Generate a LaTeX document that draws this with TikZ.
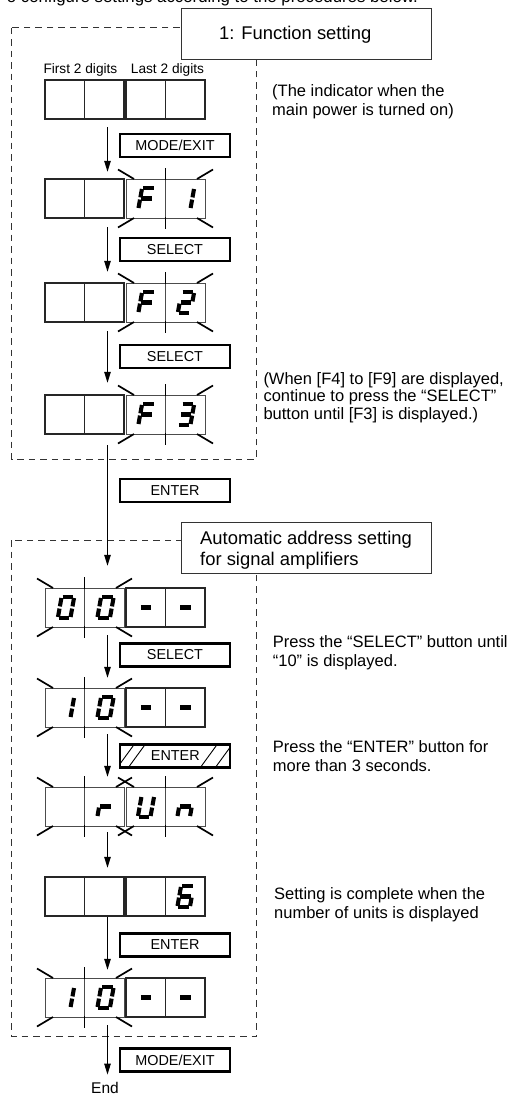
\documentclass[tikz,border=0pt]{standalone}
\usepackage{fontspec}
\setmainfont{Liberation Sans}
\usetikzlibrary{arrows.meta,calc}

\tikzset{
  solidframe/.style={draw=black!85, line width=1.2pt},
  flashframe/.style={draw=black!70, line width=0.8pt},
  flashmark/.style={draw=black, line width=1.7pt},
  seg/.style={draw=black, line width=4.1pt, line cap=butt},
  btn/.style={draw=black, line width=2.2pt, fill=white, minimum width=110pt, minimum height=23pt, inner sep=0pt, font=\fontsize{14.4}{16}\selectfont},
  ttlbox/.style={draw=black!80, line width=1pt, fill=white, inner sep=0pt},
  dashbox/.style={draw=black!80, line width=1pt, dash pattern=on 6.5pt off 5pt},
  arr/.style={draw=black, line width=1pt, -{Triangle[length=11pt,width=6.5pt]}},
  side/.style={anchor=base west, inner sep=0pt, font=\fontsize{16.5}{19}\selectfont},
  ttltext/.style={anchor=base west, inner sep=0pt, font=\fontsize{18.4}{22}\selectfont},
  dispbox/.style={draw=none, minimum width=160pt, minimum height=39pt, inner sep=0pt},
  hatch/.style={draw=black, line width=0.9pt},
}

\def\segW{6.3}
\def\segH{10.6}
\def\segG{1.1}
\def\segparse#1#2#3#4#5#6#7\relax{%
  \ifnum#1=1 \draw[seg] (-\segW+\segG,-\segH) -- (\segW-\segG,-\segH);\fi
  \ifnum#2=1 \draw[seg] (\segW,-\segH+\segG) -- (\segW,-\segG);\fi
  \ifnum#3=1 \draw[seg] (\segW,\segG) -- (\segW,\segH-\segG);\fi
  \ifnum#4=1 \draw[seg] (-\segW+\segG,\segH) -- (\segW-\segG,\segH);\fi
  \ifnum#5=1 \draw[seg] (-\segW,\segG) -- (-\segW,\segH-\segG);\fi
  \ifnum#6=1 \draw[seg] (-\segW,-\segH+\segG) -- (-\segW,-\segG);\fi
  \ifnum#7=1 \draw[seg] (-\segW+\segG,0) -- (\segW-\segG,0);\fi}
\newcommand\sevseg[3]{\begin{scope}[shift={(#1,#2)},xslant=0.18]\segparse#3\relax\end{scope}}

\newcommand\dispgrp[4]{%
  \ifnum#3=1
    \draw[flashframe] (#1,#2) rectangle (#4,#2+39);
    \draw[flashframe] ({(#1+#4)/2},#2) -- ({(#1+#4)/2},#2+39);
    \draw[flashmark] (#1-8,#2-9.5) -- (#1+8,#2);
    \draw[flashmark] (#4+8,#2-9.5) -- (#4-8,#2);
    \draw[flashmark] (#1-8,#2+48.5) -- (#1+8,#2+39);
    \draw[flashmark] (#4+8,#2+48.5) -- (#4-8,#2+39);
    \draw[flashmark] ({(#1+#4)/2},#2-11) -- ({(#1+#4)/2},#2+1);
    \draw[flashmark] ({(#1+#4)/2},#2+38) -- ({(#1+#4)/2},#2+50);
  \else
    \draw[solidframe] (#1,#2) rectangle (#4,#2+39);
    \draw[solidframe] ({(#1+#4)/2},#2) -- ({(#1+#4)/2},#2+39);
  \fi}
\newcommand\dispunit[4]{%
  \node[dispbox] (#1) at (125,#2+19.5) {};
  \dispgrp{45}{#2}{#3}{124}%
  \dispgrp{126}{#2}{#4}{205}}

\begin{document}
\begin{tikzpicture}[x=1pt,y=-1pt]
\useasboundingbox (0,0) rectangle (522,1097);
\fill[white] (0,0) rectangle (522,1097);
\coordinate (ax) at (107.5,0);

\node[anchor=base east, inner sep=0pt, font=\fontsize{16.8}{19}\selectfont] (toptext) at (418,2.5) {o configure settings according to the procedures below.};

% ---------------- section 1
\draw[dashbox] (11.7,27.7) rectangle (256.7,459);
\node[ttlbox, minimum width=249.3pt, minimum height=51pt] (ttl1) at (306.35,33.8) {};
\node[ttltext] (ttl1txt) at (219,40) {1: Function setting};

\node[anchor=base west, inner sep=0pt, font=\fontsize{13.7}{16}\selectfont] (lblfirst) at (43.3,74) {First 2 digits};
\node[anchor=base west, inner sep=0pt, font=\fontsize{13.7}{16}\selectfont] (lbllast) at (130.7,74) {Last 2 digits};

\dispunit{d1}{80}{0}{0}
\dispunit{d2}{179}{0}{1}
\dispunit{d3}{283}{0}{1}
\dispunit{d4}{395}{0}{1}
\sevseg{146.5}{198.5}{1000111}
\sevseg{186}{198.5}{0110000}
\sevseg{146.5}{302.5}{1000111}
\sevseg{186}{302.5}{1101101}
\sevseg{146.5}{414.5}{1000111}
\sevseg{186}{414.5}{1111001}

\node[side] (s1a) at (272,96.7) {(The indicator when the};
\node[side] (s1b) at (272,116) {main power is turned on)};
\node[side] (s2a) at (263.3,384) {(When [F4] to [F9] are displayed,};
\node[side] (s2b) at (263.3,401.5) {continue to press the “SELECT”};
\node[side] (s2c) at (263.3,419) {button until [F3] is displayed.)};

\node[btn] (b1) at (175,145.5) {MODE/EXIT};
\node[btn] (b2) at (175,249.5) {SELECT};
\node[btn] (b3) at (175,356.5) {SELECT};
\node[btn] (b4) at (175,490.5) {ENTER};

% ---------------- section 2
\draw[dashbox] (11.7,540) rectangle (256.7,1036);
\node[ttlbox, minimum width=249.3pt, minimum height=51pt] (ttl2) at (306.35,547.5) {};
\node[ttltext] (ttl2a) at (200,544) {Automatic address setting};
\node[ttltext] (ttl2b) at (200,565) {for signal amplifiers};

\dispunit{d5}{588}{1}{0}
\dispunit{d6}{688}{1}{0}
\dispunit{d7}{787}{1}{1}
\dispunit{d8}{877}{0}{0}
\dispunit{d9}{978}{1}{0}
% 00--
\sevseg{66}{607.5}{1111110}
\sevseg{105.5}{607.5}{1111110}
\sevseg{146}{607.5}{0000001}
\sevseg{185.5}{607.5}{0000001}
% 10--
\sevseg{66}{707.5}{0110000}
\sevseg{105.5}{707.5}{1111110}
\sevseg{146}{707.5}{0000001}
\sevseg{185.5}{707.5}{0000001}
% rUn
\sevseg{105.5}{806.5}{0000101}
\sevseg{146}{806.5}{0111110}
\sevseg{185.5}{806.5}{0010101}
% 6
\sevseg{185.5}{896.5}{1011111}
% 10--
\sevseg{66}{997.5}{0110000}
\sevseg{105.5}{997.5}{1111110}
\sevseg{146}{997.5}{0000001}
\sevseg{185.5}{997.5}{0000001}

\node[side] (s3a) at (272.7,647) {Press the “SELECT” button until};
\node[side] (s3b) at (272.7,666) {“10” is displayed.};
\node[side] (s4a) at (272.7,752) {Press the “ENTER” button for};
\node[side] (s4b) at (272.7,771) {more than 3 seconds.};
\node[side] (s5a) at (274,899) {Setting is complete when the};
\node[side] (s5b) at (274,918) {number of units is displayed};

\node[btn] (b5) at (175,655) {SELECT};
\node[btn] (b6) at (175.3,756) {ENTER};
\begin{scope}
\clip ($(b6.south west)+(1.1,-1.1)$) rectangle ($(b6.north east)+(-1.1,1.1)$);
\draw[hatch] (117,768) -- (134.5,744);
\draw[hatch] (128,768) -- (145.5,744);
\draw[hatch] (200,768) -- (217.5,744);
\draw[hatch] (215,768) -- (232.5,744);
\end{scope}
\node[btn] (b7) at (175,945) {ENTER};
\node[btn] (b8) at (175,1060) {MODE/EXIT};

\node[anchor=base west, inner sep=0pt, font=\fontsize{15.5}{18}\selectfont] (endtxt) at (91,1093) {End};

% ---------------- arrows
\draw[arr] ($(d1.south -| ax)+(0,8)$) -- ($(d2.north -| ax)+(0,-7)$);
\draw[arr] ($(d2.south -| ax)+(0,9)$) -- ($(d3.north -| ax)+(0,-11)$);
\draw[arr] ($(d3.south -| ax)+(0,9)$) -- ($(d4.north -| ax)+(0,-12)$);
\draw[arr] ($(d4.south -| ax)+(0,11)$) -- ($(d5.north -| ax)+(0,-22)$);
\draw[arr] ($(d5.south -| ax)+(0,8)$) -- ($(d6.north -| ax)+(0,-10)$);
\draw[arr] ($(d6.south -| ax)+(0,7)$) -- ($(d7.north -| ax)+(0,-10)$);
\draw[arr] ($(d7.south -| ax)+(0,6)$) -- ($(d8.north -| ax)+(0,-9)$);
\draw[arr] ($(d8.south -| ax)+(0,1)$) -- ($(d9.north -| ax)+(0,-8)$);
\draw[arr] ($(d9.south -| ax)+(0,8)$) -- ($(endtxt.north -| ax)+(0,-7)$);
\end{tikzpicture}
\end{document}
